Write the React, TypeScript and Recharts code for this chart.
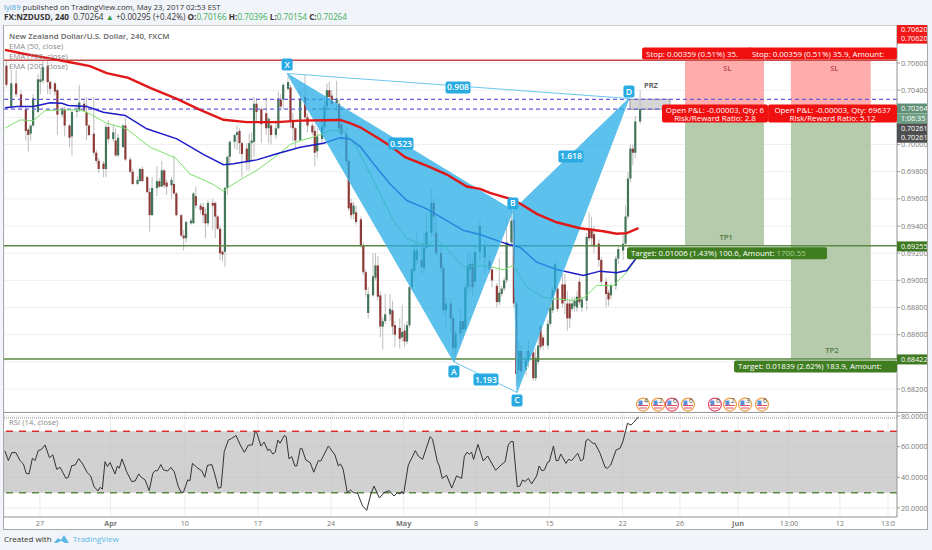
import { Area, Bar, CartesianGrid, ComposedChart, Line, ReferenceArea, ReferenceDot, ReferenceLine, XAxis, YAxis } from 'recharts';

// all prices are in pips (price * 10000), x is the 4h bar index
const candleBars = [
  1, 3, 5, 7, 9, 10, 11, 12, 14, 15, 16, 18, 19, 21, 22, 24, 25, 27, 28, 30,
  31, 33, 34, 35, 37, 38, 39, 41, 42, 43, 45, 46, 47, 49, 50, 52, 53, 55, 56, 57,
  59, 60, 61, 63, 64, 65, 66, 67, 69, 70, 71, 73, 74, 75, 77, 78, 79, 81, 82, 83,
  84, 86, 87, 88, 89, 90, 91, 92, 93, 95, 96, 97, 98, 100, 101, 102, 103, 104, 106, 108,
  109, 110, 112, 113, 114, 115, 117, 118, 119, 120, 122, 124, 125, 127, 128, 129, 131, 132, 133, 134,
  135, 137, 138, 139, 141, 142, 143, 144, 145, 147, 148, 149, 150, 152, 153, 154, 155, 156, 157, 159,
  160, 161, 163, 164, 165, 166, 167, 168, 169, 170, 172, 173, 174, 176, 177, 178, 180, 181, 182, 184,
  185, 186, 188, 189, 190, 191, 192, 193, 194, 196, 198, 200, 201, 203, 204, 205, 206, 207, 209, 210,
  211, 212, 213, 215, 216, 218, 219, 220, 221, 222, 224, 225, 226, 227, 228, 230, 231, 232, 233, 234,
  235, 236, 237, 238, 240, 241, 242, 243, 245, 246, 248, 249, 250, 252, 253, 255, 256, 257, 258, 259,
  260, 262,
];
const opens = [
  7058, 7028, 7045, 7037, 7026, 7011, 7008, 7014, 7024, 7046, 7047, 7058, 7046, 7045, 7040, 7022, 7026, 7014, 7006, 7024,
  7025, 7030, 7024, 7014, 7008, 6994, 6988, 6986, 6982, 7013, 7004, 7003, 6992, 6998, 7014, 6989, 6980, 6971, 6973, 6982,
  6976, 6965, 6948, 6968, 6973, 6969, 6981, 6972, 6970, 6971, 6964, 6948, 6933, 6931, 6942, 6942, 6962, 6955, 6954, 6949,
  6942, 6957, 6957, 6947, 6938, 6921, 6921, 6968, 6991, 7002, 7007, 7010, 7001, 6997, 6987, 7001, 7002, 7030, 7026, 7023,
  7012, 7014, 7007, 7012, 7033, 7033, 7041, 7042, 7018, 7012, 7003, 7035, 7020, 7014, 7010, 6995, 7004, 7013, 7028, 7040,
  7036, 7030, 7030, 7015, 7008, 6988, 6957, 6949, 6950, 6945, 6926, 6906, 6876, 6889, 6902, 6911, 6889, 6866, 6870, 6875,
  6878, 6867, 6865, 6858, 6863, 6855, 6867, 6895, 6907, 6915, 6915, 6909, 6924, 6935, 6957, 6935, 6920, 6909, 6878, 6883,
  6872, 6850, 6861, 6870, 6864, 6895, 6908, 6912, 6899, 6921, 6917, 6914, 6908, 6896, 6884, 6890, 6894, 6900, 6928, 6945,
  6883, 6834, 6848, 6834, 6841, 6847, 6828, 6840, 6866, 6858, 6852, 6868, 6878, 6893, 6894, 6897, 6897, 6883, 6883, 6879,
  6881, 6880, 6899, 6880, 6885, 6938, 6938, 6934, 6927, 6915, 6899, 6891, 6889, 6896, 6916, 6922, 6927, 6947, 6975, 6997,
  6994, 7017,
];
const closes = [
  7044, 7045, 7037, 7028, 7010, 7007, 7014, 7034, 7048, 7048, 7057, 7046, 7041, 7039, 7022, 7026, 7014, 7005, 7024, 7025,
  7031, 7025, 7014, 7007, 6994, 6988, 6982, 6982, 7013, 7004, 7009, 6992, 7005, 7014, 6989, 6980, 6971, 6974, 6982, 6973,
  6965, 6948, 6968, 6973, 6969, 6981, 6970, 6969, 6974, 6964, 6948, 6933, 6931, 6943, 6944, 6964, 6955, 6952, 6948, 6942,
  6957, 6955, 6947, 6938, 6920, 6919, 6968, 6991, 7002, 7007, 7009, 7001, 6993, 6987, 7001, 7003, 7030, 7024, 7015, 7012,
  7019, 7007, 7012, 7034, 7028, 7044, 7046, 7018, 7012, 7003, 7034, 7020, 7014, 7009, 6994, 7006, 7013, 7028, 7040, 7035,
  7030, 7034, 7012, 7008, 6988, 6953, 6948, 6955, 6943, 6926, 6906, 6893, 6890, 6903, 6911, 6888, 6866, 6870, 6875, 6879,
  6866, 6860, 6857, 6862, 6855, 6867, 6895, 6908, 6922, 6922, 6910, 6924, 6936, 6957, 6947, 6920, 6909, 6878, 6883, 6872,
  6850, 6861, 6870, 6864, 6895, 6911, 6912, 6895, 6921, 6940, 6925, 6908, 6900, 6884, 6891, 6894, 6900, 6928, 6944, 6883,
  6831, 6848, 6833, 6841, 6848, 6828, 6843, 6852, 6851, 6852, 6868, 6880, 6893, 6912, 6879, 6883, 6885, 6872, 6872, 6883,
  6885, 6888, 6884, 6886, 6932, 6931, 6931, 6925, 6915, 6899, 6890, 6886, 6896, 6916, 6923, 6927, 6947, 6975, 6997, 6994,
  7017, 7026,
];
const highs = [
  7062, 7055, 7055, 7040, 7028, 7012, 7015, 7037, 7052, 7055, 7062, 7062, 7047, 7046, 7041, 7028, 7028, 7015, 7025, 7030,
  7044, 7033, 7035, 7015, 7035, 6996, 6990, 6988, 7015, 7018, 7015, 7012, 7008, 7015, 7020, 6991, 6982, 6977, 6983, 6984,
  6977, 6968, 6976, 6984, 6975, 6988, 6982, 6974, 6976, 6992, 6965, 6949, 6937, 6944, 6946, 6965, 6969, 6957, 6957, 6953,
  6959, 6960, 6958, 6948, 6940, 6922, 6969, 6992, 7003, 7008, 7014, 7012, 7002, 7001, 7008, 7009, 7035, 7034, 7028, 7035,
  7020, 7015, 7018, 7039, 7037, 7045, 7050, 7044, 7023, 7013, 7040, 7052, 7023, 7016, 7014, 7012, 7020, 7036, 7045, 7046,
  7040, 7047, 7033, 7020, 7012, 6990, 6960, 6958, 6955, 6947, 6928, 6908, 6895, 6920, 6920, 6918, 6892, 6873, 6890, 6890,
  6885, 6870, 6872, 6882, 6868, 6870, 6897, 6910, 6928, 6936, 6925, 6935, 6950, 6968, 6960, 6947, 6925, 6912, 6888, 6887,
  6875, 6863, 6880, 6872, 6897, 6920, 6920, 6916, 6925, 6945, 6930, 6918, 6910, 6898, 6916, 6896, 6902, 6945, 6951, 6951,
  6885, 6855, 6852, 6848, 6856, 6850, 6850, 6858, 6868, 6860, 6871, 6883, 6895, 6914, 6897, 6905, 6905, 6892, 6886, 6888,
  6888, 6892, 6902, 6888, 6935, 6950, 6947, 6940, 6930, 6917, 6902, 6893, 6898, 6918, 6926, 6935, 6955, 6980, 7000, 7000,
  7021, 7040,
];
const lows = [
  7042, 7026, 7035, 7026, 7003, 6995, 7003, 7013, 7023, 7037, 7045, 7037, 7037, 7036, 7007, 7020, 7006, 6998, 6992, 7020,
  7024, 7024, 7003, 7006, 6992, 6986, 6979, 6976, 6976, 7001, 7002, 6991, 6991, 6998, 6988, 6979, 6970, 6970, 6973, 6973,
  6964, 6936, 6947, 6962, 6968, 6969, 6968, 6963, 6960, 6963, 6947, 6932, 6922, 6928, 6941, 6942, 6953, 6949, 6942, 6931,
  6940, 6937, 6931, 6937, 6915, 6914, 6910, 6963, 6984, 6997, 6996, 6993, 6976, 6981, 6981, 6988, 6991, 7017, 7001, 7007,
  7001, 7000, 7004, 7011, 7025, 7026, 7040, 7012, 7002, 6997, 7002, 7018, 7009, 7007, 6984, 6990, 7000, 7011, 7025, 7032,
  7026, 7025, 7008, 7003, 6985, 6951, 6945, 6945, 6941, 6924, 6904, 6888, 6872, 6888, 6900, 6885, 6858, 6849, 6868, 6870,
  6860, 6851, 6850, 6855, 6851, 6853, 6865, 6893, 6905, 6912, 6905, 6905, 6922, 6932, 6932, 6918, 6905, 6875, 6865, 6862,
  6845, 6842, 6855, 6858, 6862, 6890, 6892, 6888, 6895, 6915, 6905, 6905, 6895, 6880, 6882, 6888, 6892, 6898, 6926, 6880,
  6822, 6825, 6828, 6830, 6836, 6826, 6826, 6838, 6849, 6849, 6849, 6866, 6876, 6891, 6877, 6880, 6875, 6863, 6865, 6877,
  6877, 6877, 6882, 6877, 6878, 6929, 6925, 6920, 6910, 6896, 6880, 6881, 6886, 6893, 6912, 6915, 6925, 6945, 6972, 6985,
  6990, 7015,
];

const ema200Bars = [0.4, 8, 17.6, 27.2, 35.4, 42.3, 51.2, 60.2, 71.2, 80.8, 90.4, 100, 112.4, 121.9, 138.4, 142.5, 146.7, 153.5, 159, 165.2, 175.5, 182.4, 190.6, 196.1, 200.1, 209.8, 213.9, 219.4, 227.6, 237.2, 246.8, 252.3, 256.5, 261.3];
const ema200Values = [7069.7, 7066.8, 7063.8, 7060.6, 7057.7, 7052.5, 7049.1, 7041.7, 7033.6, 7025.5, 7018.2, 7016.5, 7016.5, 7017.6, 7018.1, 7015.7, 7012.7, 7005.4, 6999.2, 6990.7, 6983.3, 6977.9, 6969.1, 6967.4, 6964.4, 6959.3, 6955.1, 6949, 6942.8, 6938.4, 6936.2, 6934.3, 6934.8, 6938.4];
const ema100Bars = [0.4, 5.2, 12.1, 19, 23.8, 26.5, 34.1, 40.9, 49.9, 58.8, 71.2, 82.1, 90.4, 94.5, 104.1, 112.4, 122, 131.6, 138.4, 142.5, 146.7, 152.2, 159, 165.9, 174.1, 182.4, 189.3, 196.1, 207, 212.5, 219.4, 227.6, 238.6, 245.5, 252.3, 256.5, 260.2];
const ema100Values = [7027, 7028, 7028, 7030.7, 7030.4, 7028.7, 7028, 7023.8, 7021.4, 7011.6, 7004.2, 6992.7, 6985.1, 6985.8, 6988.7, 6993.2, 6998, 7001, 7004.9, 7004.1, 6998.5, 6985.8, 6971, 6958.8, 6952.6, 6944, 6936.7, 6933.8, 6926.9, 6924.4, 6913.4, 6908, 6903.6, 6906.8, 6905.6, 6907.3, 6915.9];
const ema50Bars = [0.4, 6.6, 12.1, 16.9, 24.5, 31.3, 35.4, 42.3, 50.5, 60.2, 70.5, 76.6, 86.3, 90.4, 92.4, 97.9, 104.1, 112.4, 117.9, 122, 127.4, 134.3, 139.8, 145.3, 152.2, 160.4, 165.9, 174.1, 178.3, 185.1, 189.3, 196.1, 201.5, 205.6, 209.8, 215.3, 222.1, 227.6, 234.5, 239.3, 244.1, 251, 256.5, 259.9];
const ema50Values = [7012, 7018.1, 7017.6, 7025, 7025.5, 7025.5, 7022.6, 7015.7, 7011.5, 6998, 6990.2, 6978.4, 6970.5, 6965.6, 6968.6, 6974.7, 6980.9, 6991.9, 7000, 7002.9, 7005.4, 7010.3, 7010.3, 6998, 6973.5, 6944, 6930.6, 6925.7, 6930.6, 6918.3, 6909.7, 6911, 6909.7, 6907.8, 6911, 6895, 6887.6, 6886.4, 6885.2, 6887.7, 6896.2, 6896.2, 6906, 6914.6];

const rsiBars = [
  0.4, 1.8, 3.2, 4.9, 6.6, 8, 9.1, 10.3, 11.7, 12.8, 14.1, 15.5, 16.9, 18.7, 20.1, 21.7, 23.1, 25.5, 26.5, 27.9,
  29.3, 30.8, 32.4, 34.3, 35.7, 37.1, 38.7, 39.6, 40.5, 41.6, 42.6, 43.7, 45.7, 46.7, 47.5, 48.6, 50.5, 52.6, 54, 55.5,
  56.3, 58.1, 59.8, 61.3, 62.2, 63.2, 64.6, 65.7, 67.4, 68.7, 70.1, 71.8, 72.9, 73.9, 75.7, 76.6, 77.6, 79.4, 81.5, 82.7,
  83.8, 85.6, 86.9, 88.3, 89.4, 90.7, 92.4, 93.8, 95.6, 97.3, 99, 100.7, 102.3, 103.4, 104.1, 105.8, 107.1, 108.7, 109.3, 110.7,
  111.7, 112.8, 113.7, 115.4, 116.2, 117.4, 118.5, 119.8, 120.6, 122, 122.7, 124.3, 126.1, 127.6, 129.4, 130.5, 133.6, 136.3, 137.7, 138.6,
  139.7, 141.4, 142.8, 143.9, 145.6, 147.7, 149.4, 151.1, 152.4, 154.6, 156.5, 158.7, 160.6, 162, 163.1, 163.8, 164.6, 166.5, 167.9, 169.4,
  170.6, 172.4, 175.5, 176.5, 178.5, 179.3, 180.5, 182.3, 184.4, 186.4, 188.5, 189.6, 190.6, 191.7, 192.6, 193.4, 195.2, 197.4, 199.2, 202.5,
  204.3, 206.4, 207.7, 208.7, 209.7, 211.4, 212.5, 213.6, 214.6, 216, 217.3, 219.4, 220.4, 221.5, 222.6, 223.8, 224.6, 226.3, 227.4, 228.3,
  229.3, 231.5, 232.5, 233.8, 236.3, 237.5, 238.6, 239.7, 240.7, 242.5, 243.4, 245.5, 247.6, 248.5, 249.9, 252.1, 253.7, 254.9, 256.8, 258.2,
  259.3, 260.7, 261.4,
];
const rsiValues = [
  57.2, 50.9, 56.1, 56.1, 50.9, 48.7, 42.6, 42.2, 52.4, 50.9, 57.4, 58.3, 61.1, 52.8, 54.6, 45.2, 46.5, 39.3, 40, 47.6,
  48, 52.2, 48.7, 43, 40.9, 33.9, 31.1, 33.5, 32.2, 50.2, 47, 49.6, 42.2, 47.4, 45.9, 52, 43.7, 37.2, 37.6, 42.2,
  40.4, 38.3, 31.3, 42.6, 44.3, 44.3, 48.3, 44.8, 44.1, 46.5, 43.7, 33.9, 30.2, 30.2, 38.3, 37.8, 49.1, 46.5, 44.1, 40,
  47.8, 48.3, 41.5, 32.8, 33.5, 56.7, 64.3, 65.4, 67.2, 61.1, 56.3, 61.1, 61.1, 69.8, 69.1, 60.4, 63, 57.4, 58.5, 55.2,
  56.3, 64.3, 62.2, 67.2, 66.5, 52, 53.5, 47.4, 47.4, 58.7, 58.9, 51.3, 49.6, 43.3, 50.7, 50.7, 60.4, 54.6, 47.4, 48.7,
  45.2, 30, 31.7, 30, 29.6, 21.3, 18.5, 29.1, 34.3, 26.5, 30, 31.3, 27.8, 30, 29.1, 30.9, 29.1, 48, 52.4, 57.4,
  53.9, 51.7, 66.5, 64.8, 50.2, 47.4, 39.3, 41.3, 33, 40.9, 39.3, 53.5, 56.3, 55.2, 56.3, 51.7, 61.5, 50.7, 53.9, 44.6,
  47.4, 50.2, 61.1, 63.3, 63.3, 33.9, 34.3, 38.3, 37.2, 39.3, 35.7, 40.9, 47.4, 44.3, 44.8, 49.6, 50.2, 60.4, 50.9, 50.9,
  55.2, 49.1, 51.7, 50.9, 55.7, 50.7, 51.7, 63.9, 64.8, 62.2, 62.2, 55.7, 46.5, 45.9, 48, 57.8, 58.9, 63.3, 75.2, 74.1,
  75.7, 78.5, 79.1,
];

// harmonic pattern pivots
const pivotNames = ['X', 'A', 'B', 'C', 'D'];
const pivotBars = [116.6, 185.3, 209.6, 211.3, 257.4];
const pivotPrices = [7052.3, 6840, 6951.4, 6817.5, 7033.9];
const pivotTagPrices = [7058.9, 6832.9, 6956.6, 6811.6, 7039];
const ratioLabels = ['0.908', '0.523', '1.618', '1.193'];
const ratioBars = [187, 163.5, 233.5, 198.5];
const ratioPrices = [7042, 7000.7, 6991.2, 6827];

const timeTicks = [14.8, 43.9, 74.5, 104.6, 134.7, 164.6, 194.4, 224.7, 254.8, 278.4, 302.3, 323.3, 344.3, 364.1];
const timeLabels = ['27', 'Apr', '10', '17', '24', 'May', '8', '15', '22', '26', 'Jun', '13:00', '12', '13:0'];
const boldTimeLabels = ['Apr', 'May', 'Jun'];
const priceTicks = [7060, 7040, 7020, 7000, 6980, 6960, 6940, 6920, 6900, 6880, 6860, 6840, 6820];
// these two sit behind the price tags on the axis
const hiddenPriceTicks = [7020, 6840];
const rsiTicks = [80, 60, 40, 20];

const axisTagLabels = ['0.70620', '0.70620', '0.70264', '1:06:35', '0.70261', '0.70261', '0.69255', '0.68422'];
const axisTagPrices = [7084.6, 7078, 7026.5, 7019, 7011.8, 7005, 6925, 6841.8];
const axisTagColors = ['#f01818', '#f01818', '#5f8f74', '#6f9f84', '#4f4f4f', '#4f4f4f', '#3f7a20', '#3f7a20'];

const eventBars = [263.2, 269.4, 275.1, 281.7, 292.8, 299, 305.2, 312.2];
const eventCounts = ['4', '2', '6', '6', '6', '2', '3', '6'];
const eventColors = ['#f0a040', '#f0a040', '#e84a6a', '#f0a040', '#e84a6a', '#f0a040', '#f0a040', '#f0a040'];

const FONT = '"Open Sans", sans-serif';
const BAR_MAX = 367.8;
const P_MIN = 6803.1;
const P_MAX = 7088;
const PLOT_W = 923;

const candleRows = candleBars.map((x, i) => ({ x, open: opens[i], close: closes[i], high: highs[i], low: lows[i] }));
const zip = (xs: number[], ys: number[]) => xs.map((x, i) => ({ x, v: ys[i] }));
const rsiRows = zip(rsiBars, rsiValues);

const edgeAt = (a: number, b: number, at: number) =>
  pivotPrices[a] + ((pivotPrices[b] - pivotPrices[a]) * (pivotBars[at] - pivotBars[a])) / (pivotBars[b] - pivotBars[a]);
const pivotRange = (i: number, top = pivotPrices[i]) => ({ x: pivotBars[i], range: [pivotPrices[i], top] });
const xabRows = [pivotRange(0), pivotRange(1, edgeAt(0, 2, 1)), pivotRange(2)];
const bcdRows = [pivotRange(2), pivotRange(3, edgeAt(2, 4, 3)), pivotRange(4)];
const xdRows = [0, 4].map((i) => ({ x: pivotBars[i], v: pivotPrices[i] }));
const acRows = [1, 3].map((i) => ({ x: pivotBars[i], v: pivotPrices[i] }));

function Candle(props: any) {
  const { x, y, width, height, payload } = props;
  const mid = x + width / 2;
  const perPip = height / (payload.high - payload.low || 1);
  const top = y + (payload.high - Math.max(payload.open, payload.close)) * perPip;
  const bodyH = Math.max(Math.abs(payload.open - payload.close) * perPip, 1);
  const up = payload.close >= payload.open;
  return (
    <g>
      <line x1={mid} x2={mid} y1={y} y2={y + height} stroke="#bdbdbd" strokeWidth={1} />
      <rect x={mid - 1.1} y={top} width={2.2} height={bodyH} fill={up ? '#43755a' : '#8c3b38'} />
    </g>
  );
}

const BlueTag = ({ cx, cy, label }: any) => {
  const w = label.length > 1 ? 25 : 11;
  return (
    <g>
      <rect x={cx - w / 2} y={cy - 6} width={w} height={12} rx={2} fill="#29abe2" />
      <text x={cx} y={cy + 3} textAnchor="middle" fontSize={8.6} fontFamily={FONT} fontWeight={600} fill="#fff">{label}</text>
    </g>
  );
};

const AxisTag = ({ cx, cy, label, color }: any) => (
  <g>
    <rect x={cx} y={cy - 5} width={30} height={10} fill={color} />
    <text x={cx + 4} y={cy + 2.6} fontSize={7.2} fontFamily={FONT} fill="#fff">{label}</text>
  </g>
);

const PositionTag = ({ cx, cy, w, h = 12, color, lines, faded }: any) => (
  <g>
    <rect x={cx} y={cy - h / 2} width={w} height={h} rx={2} fill={color} />
    {lines.length === 2 ? (
      <>
        <text x={cx + w / 2} y={cy - 1} textAnchor="middle" fontSize={7.9} fontFamily={FONT} fill="#fff">{lines[0]}</text>
        <text x={cx + w / 2} y={cy + 7} textAnchor="middle" fontSize={7.9} fontFamily={FONT} fill="#fff">{lines[1]}</text>
      </>
    ) : (
      <text x={cx + 4} y={cy + 3} fontSize={7.9} fontFamily={FONT} fill="#fff">
        {lines[0]}
        {faded ? <tspan fill="#a9cf95"> {faded}</tspan> : null}
      </text>
    )}
  </g>
);

const SmallText = ({ cx, cy, label, color }: any) => (
  <text x={cx} y={cy + 3} textAnchor="middle" fontSize={7.6} fontFamily={FONT} fontWeight={600} fill={color}>{label}</text>
);

const EventIcon = ({ cx, cy, count, color }: any) => (
  <g>
    <circle cx={cx} cy={cy} r={6.5} fill="#fff" stroke={color} strokeWidth={1.2} />
    <path d={`M${cx - 5} ${cy + 1}L${cx + 5} ${cy + 1}M${cx - 4} ${cy + 3.5}L${cx + 4} ${cy + 3.5}`} stroke="#e84a5a" strokeWidth={1} />
    <rect x={cx - 4.5} y={cy - 4} width={4} height={4.5} fill="#5b8fd8" />
    <text x={cx + 3} y={cy - 2} textAnchor="middle" fontSize={7} fontFamily={FONT} fill="#555">{count}</text>
  </g>
);

function PriceChart() {
  return (
    <ComposedChart width={PLOT_W} height={387} data={candleRows} margin={{ top: 0, right: 0, bottom: 0, left: 0 }}>
      <CartesianGrid stroke="#efefef" />
      <XAxis type="number" dataKey="x" domain={[0, BAR_MAX]} ticks={timeTicks} interval={0} height={0} tick={false} axisLine={false} tickLine={false} allowDataOverflow />
      <YAxis orientation="right" width={30} domain={[P_MIN, P_MAX]} ticks={priceTicks} interval={0} allowDataOverflow
        tickFormatter={(v: number) => (hiddenPriceTicks.includes(v) ? '' : (v / 10000).toFixed(5))} tick={{ fontSize: 7.2, fill: '#777', fontFamily: FONT }}
        tickLine={{ stroke: '#999' }} tickSize={3} tickMargin={1} axisLine={{ stroke: '#999' }} />

      <ReferenceArea x1={280.5} x2={313} y1={7026.1} y2={7062} fill="#ff9d9d" fillOpacity={0.85} stroke="none" />
      <ReferenceArea x1={280.5} x2={313} y1={6925.5} y2={7026.1} fill="#a9c29d" fillOpacity={0.85} stroke="none" />
      <ReferenceArea x1={324.1} x2={357} y1={7026.1} y2={7062} fill="#ff9d9d" fillOpacity={0.85} stroke="none" />
      <ReferenceArea x1={324.1} x2={357} y1={6842.2} y2={7026.1} fill="#a9c29d" fillOpacity={0.85} stroke="none" />

      <ReferenceLine y={7062} stroke="#c64a46" strokeWidth={1.5} />
      <ReferenceLine y={6925.5} stroke="#5a8a45" strokeWidth={1.5} />
      <ReferenceLine y={6842.2} stroke="#5a8a45" strokeWidth={1.5} />
      <ReferenceLine y={7033.3} stroke="#6a5ce0" strokeWidth={1.2} strokeDasharray="4 3" />
      <ReferenceLine y={7026} stroke="#6a5ce0" strokeWidth={1.2} strokeDasharray="4 3" />
      <ReferenceArea x1={257.8} x2={274.3} y1={7026} y2={7033.3} fill="#d6d6d6" fillOpacity={1} stroke="#999" />

      <Bar dataKey={(d: any) => [d.low, d.high]} barSize={3} shape={<Candle />} isAnimationActive={false} />
      <Line data={zip(ema50Bars, ema50Values)} dataKey="v" stroke="#7be06a" strokeWidth={1} dot={false} isAnimationActive={false} />
      <Line data={zip(ema100Bars, ema100Values)} dataKey="v" stroke="#1c1cc8" strokeWidth={1.5} dot={false} isAnimationActive={false} />
      <Area data={xabRows} dataKey="range" type="linear" fill="#25ace6" fillOpacity={0.75} stroke="#5cc0ea" isAnimationActive={false} zIndex={450} />
      <Area data={bcdRows} dataKey="range" type="linear" fill="#25ace6" fillOpacity={0.75} stroke="#5cc0ea" isAnimationActive={false} zIndex={450} />
      <Line data={xdRows} dataKey="v" stroke="#6cc8ee" strokeWidth={1} dot={false} isAnimationActive={false} zIndex={460} />
      <Line data={acRows} dataKey="v" stroke="#6cc8ee" strokeWidth={1} dot={false} isAnimationActive={false} zIndex={460} />
      <Line data={zip(ema200Bars, ema200Values)} dataKey="v" stroke="#e01818" strokeWidth={2.4} dot={false} isAnimationActive={false} zIndex={470} />

      {pivotNames.map((name, i) => (
        <ReferenceDot key={name} x={pivotBars[i]} y={pivotTagPrices[i]} shape={(p: any) => <BlueTag {...p} label={name} />} />
      ))}
      {ratioLabels.map((label, i) => (
        <ReferenceDot key={label} x={ratioBars[i]} y={ratioPrices[i]} shape={(p: any) => <BlueTag {...p} label={label} />} />
      ))}

      <ReferenceDot x={266.5} y={7044} shape={(p: any) => <SmallText {...p} label="PRZ" color="#444" />} />
      <ReferenceDot x={298} y={7056.5} shape={(p: any) => <SmallText {...p} label="SL" color="#b8434f" />} />
      <ReferenceDot x={342} y={7056.5} shape={(p: any) => <SmallText {...p} label="SL" color="#b8434f" />} />
      <ReferenceDot x={297.4} y={6932} shape={(p: any) => <SmallText {...p} label="TP1" color="#4f7a42" />} />
      <ReferenceDot x={341} y={6849} shape={(p: any) => <SmallText {...p} label="TP2" color="#4f7a42" />} />

      <ReferenceDot x={262.8} y={7067} shape={(p: any) => <PositionTag {...p} w={110} color="#f01010" lines={['Stop: 0.00359 (0.51%) 35.']} />} />
      <ReferenceDot x={306.4} y={7067} shape={(p: any) => <PositionTag {...p} w={149} color="#f01010" lines={['Stop: 0.00359 (0.51%) 35.9, Amount:']} />} />
      <ReferenceDot x={271} y={7022.8} shape={(p: any) => <PositionTag {...p} w={106} h={18} color="#f01010" lines={['Open P&L: -0.00003, Qty: 6', 'Risk/Reward Ratio: 2.8']} />} />
      <ReferenceDot x={314.7} y={7022.8} shape={(p: any) => <PositionTag {...p} w={129} h={18} color="#f01010" lines={['Open P&L: -0.00003, Qty: 69637', 'Risk/Reward Ratio: 5.12']} />} />
      <ReferenceDot x={256.6} y={6920} shape={(p: any) => <PositionTag {...p} w={200} color="#3f7d20" lines={['Target: 0.01006 (1.43%) 100.6, Amount:']} faded="1700.55" />} />
      <ReferenceDot x={300.7} y={6836.6} shape={(p: any) => <PositionTag {...p} w={163} color="#3f7d20" lines={['Target: 0.01839 (2.62%) 183.9, Amount:']} />} />

      {eventBars.map((bar, i) => (
        <ReferenceDot key={bar} x={bar} y={6808.6} shape={(p: any) => <EventIcon {...p} count={eventCounts[i]} color={eventColors[i]} />} />
      ))}
      {axisTagLabels.map((label, i) => (
        <ReferenceDot key={i} x={BAR_MAX} y={axisTagPrices[i]} shape={(p: any) => <AxisTag {...p} label={label} color={axisTagColors[i]} />} />
      ))}
    </ComposedChart>
  );
}

function RsiChart() {
  return (
    <ComposedChart width={PLOT_W} height={116} data={rsiRows} margin={{ top: 0, right: 0, bottom: 0, left: 0 }}>
      <CartesianGrid stroke="#ececec" />
      <XAxis type="number" dataKey="x" domain={[0, BAR_MAX]} ticks={timeTicks} interval={0} height={11} allowDataOverflow
        tick={(p: any) => {
          const label = timeLabels[timeTicks.indexOf(p.payload.value)];
          return (
            <text x={p.x} y={p.y + 1} textAnchor="middle" fontSize={7.2} fontFamily={FONT} fontWeight={boldTimeLabels.includes(label) ? 700 : 400} fill="#777">
              {label}
            </text>
          );
        }}
        tickLine={false} axisLine={{ stroke: '#999' }} />
      <YAxis orientation="right" width={30} domain={[14.1, 82.6]} ticks={rsiTicks} interval={0} allowDataOverflow
        tickFormatter={(v: number) => v.toFixed(4)} tick={{ fontSize: 7.2, fill: '#777', fontFamily: FONT }}
        tickLine={{ stroke: '#999' }} tickSize={3} tickMargin={1} axisLine={{ stroke: '#999' }} />
      <ReferenceArea y1={30} y2={70} fill="#bdbdbd" fillOpacity={0.7} stroke="none" />
      <ReferenceLine y={70} stroke="#d83030" strokeWidth={1.5} strokeDasharray="7 6" />
      <ReferenceLine y={30} stroke="#5a8a45" strokeWidth={1.5} strokeDasharray="7 6" />
      <ReferenceLine y={78.7} stroke="#888" strokeDasharray="1 1" />
      <Line dataKey="v" stroke="#333" strokeWidth={1} dot={false} isAnimationActive={false} />
    </ComposedChart>
  );
}

const textAt = (left: number, top: number, size: number, color: string, weight = 400): React.CSSProperties => ({
  position: 'absolute', left, top, fontSize: size, color, fontWeight: weight, fontFamily: FONT, lineHeight: '12px', whiteSpace: 'nowrap',
});

export default function App() {
  return (
    <div style={{ position: 'absolute', left: 0, top: 0, width: 932, height: 550, background: '#f1f4f8', overflow: 'hidden' }}>
      <div style={textAt(4, 1, 7.7, '#333')}>
        <span style={{ color: '#4aa8dc' }}>lyl89</span> published on TradingView.com, May 23, 2017 02:53 EST
      </div>
      <div style={textAt(4, 11, 8.2, '#333')}>
        <b>FX:NZDUSD, 240</b>&nbsp; 0.70264 <span style={{ color: '#3a9a4a' }}>▲</span> +0.00295 (+0.42%){' '}
        <b>O:</b><span style={{ color: '#3fae5a' }}>0.70166</span> <b>H:</b><span style={{ color: '#3fae5a' }}>0.70396</span>{' '}
        <b>L:</b><span style={{ color: '#3fae5a' }}>0.70154</span> <b>C:</b><span style={{ color: '#3fae5a' }}>0.70264</span>
      </div>

      <div style={{ position: 'absolute', left: 3, top: 25, width: 923, height: 503, background: '#fff', border: '1px solid #a8a8a8' }} />
      <div style={{ position: 'absolute', left: 4, top: 25 }}><PriceChart /></div>
      <div style={{ position: 'absolute', left: 4, top: 412 }}><RsiChart /></div>
      <div style={{ position: 'absolute', left: 4, top: 412, width: 923, height: 1, background: '#999' }} />

      <div style={textAt(9, 30, 7.9, '#666', 600)}>New Zealand Dollar/U.S. Dollar, 240, FXCM</div>
      <div style={textAt(9, 40, 7.8, '#888')}>EMA (50, close)</div>
      <div style={textAt(9, 50, 7.8, '#888')}>EMA (100, close)</div>
      <div style={textAt(9, 60, 7.8, '#888')}>EMA (200, close)</div>
      <div style={textAt(9, 416, 7.8, '#888')}>RSI (14, close)</div>

      <div style={textAt(4, 533, 8, '#333')}>Created with</div>
      <svg style={{ position: 'absolute', left: 53, top: 533 }} width={17} height={12}>
        <path d="M1 10 L5 5 L8 7 L11 2 L16 10 Z" fill="#5cb8e6" />
        <path d="M4 10 L8 8 L12 10 Z" fill="#fff" />
      </svg>
      <div style={textAt(73, 533, 8, '#5cb8e6')}>TradingView</div>
    </div>
  );
}
